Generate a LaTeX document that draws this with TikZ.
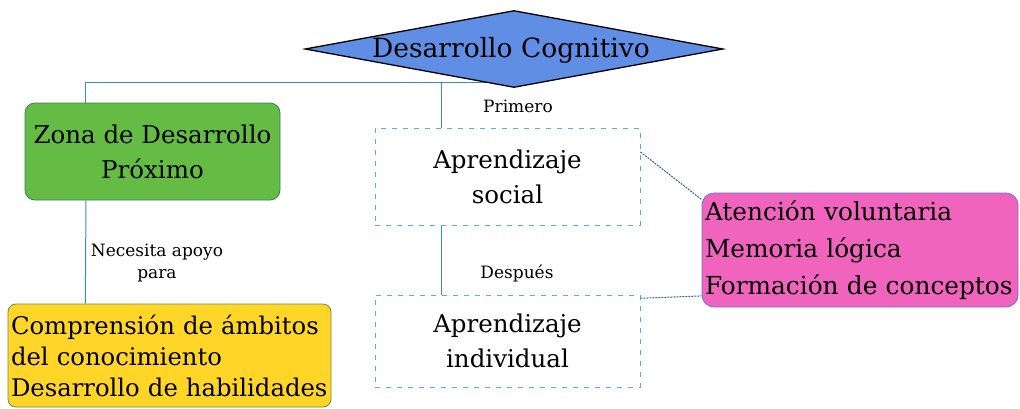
\documentclass[tikz,border=0pt]{standalone}
\usepackage{fontspec}
\setmainfont{DejaVu Serif}
\usetikzlibrary{shapes.geometric,calc,backgrounds}
\definecolor{diafill}{RGB}{96,142,228}
\definecolor{grfill}{RGB}{100,188,68}
\definecolor{grline}{RGB}{60,130,70}
\definecolor{yefill}{RGB}{255,214,40}
\definecolor{yeline}{RGB}{110,140,60}
\definecolor{pkfill}{RGB}{240,100,190}
\definecolor{pkline}{RGB}{110,110,220}
\definecolor{conn}{RGB}{60,140,190}
\definecolor{dashc}{RGB}{80,175,220}
\definecolor{dotc}{RGB}{50,100,150}
\tikzset{
  mainfont/.style={font=\fontsize{24.5}{35}\selectfont},
  smallfont/.style={font=\fontsize{17}{22}\selectfont},
  roundbox/.style={rounded corners=10pt, line width=0.8pt, inner sep=2pt},
  dashbox/.style={draw=dashc, line width=0.9pt, dash pattern=on 5pt off 6pt, inner sep=0pt, mainfont, align=center},
  link/.style={draw=conn, line width=1pt},
  dotlink/.style={draw=dotc, line width=1pt, dash pattern=on 2pt off 1pt},
  lbl/.style={smallfont, align=center, inner sep=0pt}
}
\begin{document}
\begin{tikzpicture}[x=1pt,y=-1pt]
\useasboundingbox (0,0) rectangle (1020,408);
% diamond
\node[diamond, draw=black, line width=1.3pt, fill=diafill, minimum width=418pt, minimum height=77pt, inner sep=0pt] (cog) at (514,49) {};
\node[font=\fontsize{26.5}{30}\selectfont, inner sep=0pt] (cogt) at (511,50) {Desarrollo Cognitivo};
% boxes
\node[roundbox, draw=grline, fill=grfill, minimum width=255pt, minimum height=97pt, mainfont, align=center] (zdp) at (152.5,151.5) {Zona de Desarrollo\\Próximo};
\node[roundbox, rounded corners=8pt, draw=yeline, fill=yefill, minimum width=323pt, minimum height=103pt, text width=317pt, align=left, font=\fontsize{24.3}{31}\selectfont] (comp) at (169.5,355.5) {Comprensión de ámbitos\\del conocimiento\\Desarrollo de habilidades};
\node[dashbox, minimum width=265pt, minimum height=97pt] (social) at (507.5,176.5) {Aprendizaje\\social};
\node[dashbox, minimum width=265pt, minimum height=92pt] (indiv) at (507.5,341) {Aprendizaje\\individual};
\node[roundbox, rounded corners=12pt, draw=pkline, fill=pkfill, minimum width=316pt, minimum height=114pt, text width=310pt, align=left, font=\fontsize{24.8}{37}\selectfont] (pink) at (860,250) {Atención voluntaria\\Memoria lógica\\Formación de conceptos};
% labels
\node[lbl] (primero) at (518,106) {Primero};
\node[lbl] (despues) at (517,273) {Después};
\node[lbl] (necesita) at (157,263) {Necesita apoyo\\para};
% connectors (behind)
\begin{scope}[on background layer]
\coordinate (bar) at (0,82);
\coordinate (zdpTop) at ($(zdp.north west)!0.24!(zdp.north east)$);
\coordinate (socTop) at ($(social.north west)!0.25!(social.north east)$);
\draw[link] (zdpTop) |- (cog.south |- bar);
\draw[link] (socTop) -- (socTop |- bar);
\draw[link] ($(zdp.south west)!0.24!(zdp.south east)$) -- ($(comp.north west)!0.24!(comp.north east)$);
\draw[link] ($(social.south west)!0.25!(social.south east)$) -- ($(indiv.north west)!0.25!(indiv.north east)$);
\draw[dotlink] ($(social.north east)!0.25!(social.south east)$) -- ($(pink.north west)!0.06!(pink.south west)$);
\draw[dotlink] ($(indiv.north east)!0.04!(indiv.south east)$) -- ($(pink.north west)!0.9!(pink.south west)$);
\end{scope}
\end{tikzpicture}
\end{document}
